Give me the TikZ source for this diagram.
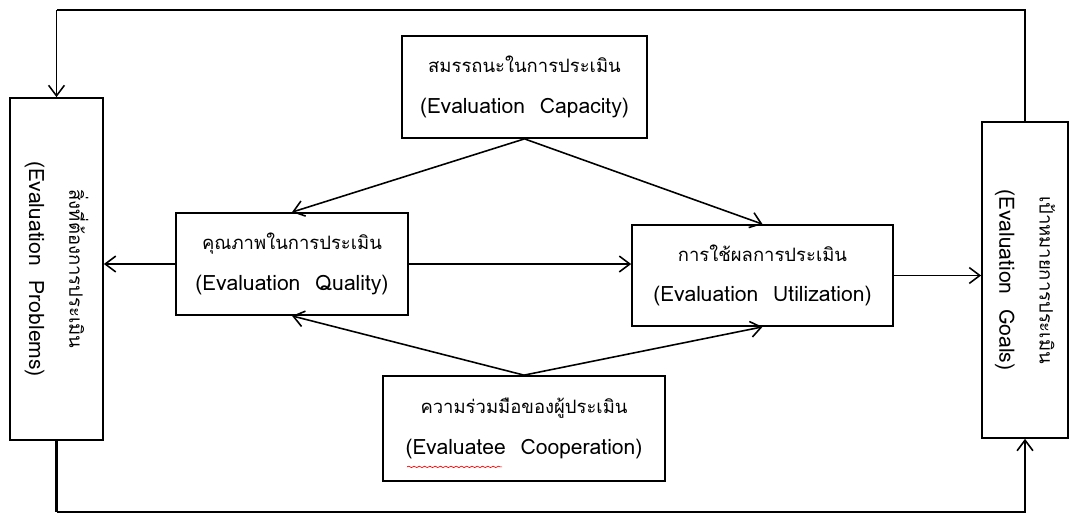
\documentclass[tikz,border=0pt]{standalone}
\usepackage{fontspec}
\newfontfamily\thaifont[Script=Thai]{Loma}
\usetikzlibrary{arrows.meta,decorations.pathmorphing}
\newcommand{\eng}[1]{{\fontsize{12}{24}\selectfont #1}}
\tikzset{bx/.append style={draw,rectangle,line width=1pt,inner sep=0pt,align=center,font=\thaifont\fontsize{10.5}{23}\selectfont}}
\tikzset{vt/.append style={rotate=-90,align=center,font=\thaifont\fontsize{10.5}{23}\selectfont}}
\tikzset{ar/.append style={-{Straight Barb[length=6pt,width=9pt]},line width=0.9pt}}

\begin{document}
\begin{tikzpicture}[x=0.02cm,y=-0.02cm]
                \useasboundingbox (0,0) rectangle (1070,514);
                % boxes
                \node[bx,minimum width=1.86cm,minimum height=6.84cm] (prob) at (56.5,269) {};
                \node[vt] (probt) at (prob.center) {สิ่งที่ต้องการประเมิน\\\eng{(Evaluation\hspace{0.7em}Problems)}};
                \node[bx,minimum width=1.72cm,minimum height=6.32cm] (goal) at (1025,280) {};
                \node[vt] (goalt) at (goal.center) {เป้าหมายการประเมิน\\\eng{(Evaluation\hspace{0.7em}Goals)}};
                \node[bx,minimum width=4.9cm,minimum height=2.04cm] (cap) at (524.5,87) {สมรรถนะในการประเมิน\\\eng{(Evaluation\hspace{0.7em}Capacity)}};
                \node[bx,minimum width=4.64cm,minimum height=2.04cm] (qual) at (292,264) {คุณภาพในการประเมิน\\\eng{(Evaluation\hspace{0.7em}Quality)}};
                \node[bx,minimum width=5.22cm,minimum height=2.02cm] (util) at (762.5,275.5) {การใช้ผลการประเมิน\\\eng{(Evaluation\hspace{0.7em}Utilization)}};
                \node[bx,minimum width=5.64cm,minimum height=2.1cm] (coop) at (524,428.5) {ความร่วมมือของผู้ประเมิน\\\eng{(Evaluatee\hspace{0.7em}Cooperation)}};
                \coordinate (tl) at (0,10);
                \coordinate (bl) at (0,512);
                % arrows
                \draw[ar] (cap.south) -- (qual.north);
                \draw[ar] (cap.south) -- (util.north);
                \draw[ar] (coop.north) -- (qual.south);
                \draw[ar] (coop.north) -- (util.south);
                \draw[ar] (qual.west) -- (qual.west -| prob.east);
                \draw[ar] (qual.east) -- (qual.east -| util.west);
                \draw[ar] (util.east) -- (util.east -| goal.west);
                \draw[line width=1.6pt] (goal.north) -- (goal.north |- tl) -- (prob.north |- tl);
                \draw[ar] (prob.north |- tl) -- (prob.north);
                \draw[line width=1.4pt] (prob.south) -- (prob.south |- bl);
                \draw[ar] (prob.south |- bl) -- (goal.south |- bl) -- (goal.south);
                % spell-check mark
                \draw[red,line width=0.4pt,decorate,decoration={snake,amplitude=0.4pt,segment length=3pt}] ([xshift=0.5cm,yshift=0.3cm]coop.south west) -- ([xshift=2.4cm,yshift=0.3cm]coop.south west);
            \end{tikzpicture}
\end{document}
